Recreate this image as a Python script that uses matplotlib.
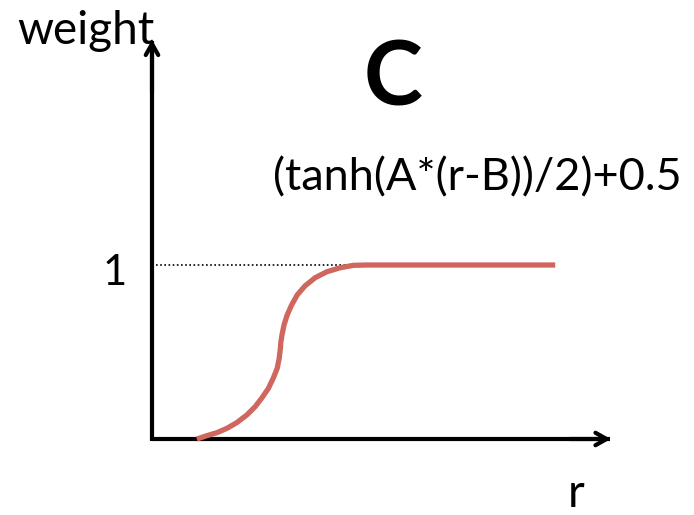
import matplotlib
matplotlib.use("Agg")
import matplotlib.pyplot as plt

# Sigmoid-shaped weight profile w(r), read point by point
r_vals = [1.12, 1.37, 1.62, 1.87, 2.12, 2.37, 2.58, 2.74, 2.91, 3.03, 3.13, 3.18,
          3.21, 3.22, 3.25, 3.30, 3.38, 3.49, 3.63, 3.83, 4.08, 4.37, 4.70, 5.03,
          5.37, 10.08]
w_vals = [0.000, 0.019, 0.036, 0.061, 0.094, 0.138, 0.186, 0.234, 0.291, 0.349,
          0.406, 0.464, 0.521, 0.555, 0.598, 0.655, 0.713, 0.770, 0.828, 0.881,
          0.927, 0.961, 0.984, 0.998, 1.000, 1.000]

y_tick_value = 1
y_tick_label = "1"
x_label = "r"
y_label = "weight"
panel_label = "C"
formula = "(tanh(A*(r-B))/2)+0.5"

W, H = 694, 515
fig = plt.figure(figsize=(W / 100, H / 100), dpi=100)
ax = fig.add_axes([0, 0, 1, 1])
ax.set_xlim(-152 / 40, (W - 152) / 40)
ax.set_ylim(-(H - 439) / 174, 439 / 174)
ax.axis("off")

FONT = "Lato"
curve_color = "#D0675F"

# axes with open arrow heads
x_end = 11.45
y_end = 2.29
ax.plot([0, x_end], [0, 0], color="black", lw=3.0, solid_capstyle="butt", zorder=3)
ax.plot([0, 0], [-0.012, y_end], color="black", lw=3.0, solid_capstyle="butt", zorder=3)
ax.annotate("", xy=(x_end + 0.02, 0), xytext=(x_end - 1, 0),
            arrowprops=dict(arrowstyle="->,head_length=0.8,head_width=0.45",
                            lw=3.0, color="black", shrinkA=0, shrinkB=0), zorder=4)
ax.annotate("", xy=(0, y_end + 0.005), xytext=(0, y_end - 0.3),
            arrowprops=dict(arrowstyle="->,head_length=0.8,head_width=0.45",
                            lw=3.0, color="black", shrinkA=0, shrinkB=0), zorder=4)

# dotted guide at weight = 1
ax.plot([0.1, r_vals[-3]], [y_tick_value, y_tick_value], color="black",
        lw=1.2, linestyle=(0, (1, 1.5)), zorder=2)

# weight curve
ax.plot(r_vals, w_vals, color=curve_color, lw=3.8, solid_capstyle="butt",
        solid_joinstyle="round", zorder=5)

def ftext(px, py, s, size, **kw):
    fig.text(px / W, 1 - py / H, s, fontsize=size, family=FONT,
             ha="center", va="center", **kw)

ftext(86, 31, y_label, 33)
ftext(576, 494, x_label, 33)
ftext(115, 273, y_tick_label, 30)
ftext(393, 79, panel_label, 64, fontweight="bold")
ftext(477, 178, formula, 32.5)

fig.savefig("out.png", dpi=100)
